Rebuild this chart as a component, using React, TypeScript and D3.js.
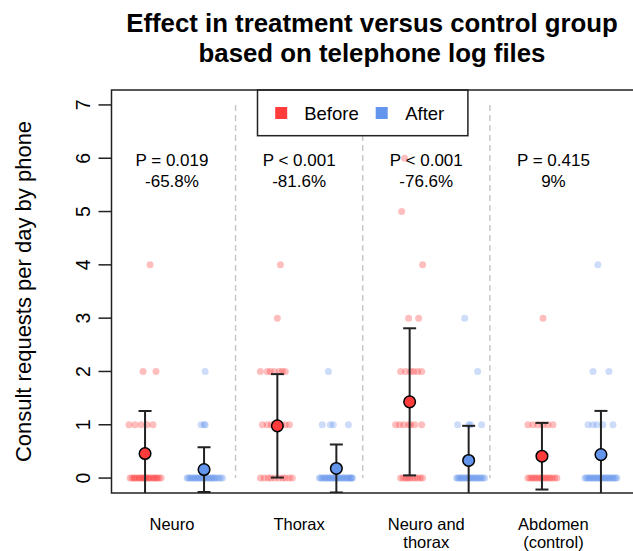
import React from 'react';
import * as d3 from 'd3';

// groups and summary text
const groups = ['Neuro', 'Thorax', 'Neuro and thorax', 'Abdomen (control)'];
const groupLabels = [['Neuro'], ['Thorax'], ['Neuro and', 'thorax'], ['Abdomen', '(control)']];
const pValues = ['P = 0.019', 'P < 0.001', 'P < 0.001', 'P = 0.415'];
const changes = ['-65.8%', '-81.6%', '-76.6%', '9%'];
const phases = ['Before', 'After'];
const yTicks = [0, 1, 2, 3, 4, 5, 6, 7];

// mean and sd per group
const meanBefore = [0.46, 0.98, 1.43, 0.41];
const sdBefore = [0.8, 0.97, 1.38, 0.625];
const meanAfter = [0.16, 0.18, 0.33, 0.44];
const sdAfter = [0.42, 0.45, 0.65, 0.82];

// observations: [value, jitter list] (jitter in group-width units)
type Row = [number, number[]];
const neuroBefore: Row[] = [
  [0, [-0.113, -0.098, -0.083, -0.076, -0.06, -0.045, -0.038, -0.023, -0.015, 0, 0.008, 0.023, 0.03, 0.045, 0.06, 0.068, 0.083, 0.091, 0.106, 0.121]],
  [1, [-0.121, -0.076, -0.03, 0.015, 0.06]],
  [2, [-0.015, 0.083]],
  [4, [0.038]],
];
const neuroAfter: Row[] = [
  [0, [-0.128, -0.12, -0.105, -0.098, -0.085, -0.078, -0.064, -0.058, -0.045, -0.038, -0.026, -0.018, -0.006, 0.002, 0.014, 0.022, 0.035, 0.042, 0.055, 0.062, 0.075, 0.082, 0.097, 0.11, 0.126, 0.14]],
  [1, [-0.023, 0, 0.008]],
  [2, [0.008]],
];
const thoraxBefore: Row[] = [
  [0, [-0.128, -0.1, -0.07, -0.05, -0.02, 0.01, 0.04, 0.06, 0.09, 0.113]],
  [1, [-0.113, -0.076, -0.045, 0, 0.03, 0.06, 0.091]],
  [2, [-0.128, -0.076, -0.053, -0.023, 0.015, 0.038, 0.06]],
  [3, [0]],
  [4, [0.023]],
];
const thoraxAfter: Row[] = [
  [0, [-0.128, -0.118, -0.108, -0.096, -0.087, -0.076, -0.066, -0.057, -0.046, -0.036, -0.027, -0.016, -0.006, 0.004, 0.013, 0.024, 0.033, 0.044, 0.053, 0.064, 0.073, 0.084, 0.093, 0.103, 0.11, 0.118, 0.121]],
  [1, [-0.106, -0.045, -0.023, 0.091]],
  [2, [-0.06]],
];
const ntBefore: Row[] = [
  [0, [-0.068, -0.05, -0.03, -0.015, 0, 0.02, 0.04, 0.06, 0.08, 0.098]],
  [1, [-0.106, -0.076, -0.045, -0.008, 0.008, 0.038, 0.091]],
  [2, [-0.068, -0.03, 0.008, 0.03, 0.06, 0.091]],
  [3, [-0.008, 0.068]],
  [4, [0.098]],
  [5, [-0.06]],
  [6, [-0.038]],
];
const ntAfter: Row[] = [
  [0, [-0.091, -0.083, -0.072, -0.062, -0.052, -0.042, -0.032, -0.02, -0.01, 0, 0.01, 0.02, 0.03, 0.042, 0.052, 0.062, 0.074, 0.085, 0.096, 0.108, 0.121]],
  [1, [-0.083, 0, 0.015, 0.098]],
  [2, [0.068]],
  [3, [-0.03]],
];
const abdBefore: Row[] = [
  [0, [-0.106, -0.09, -0.075, -0.06, -0.045, -0.03, -0.015, 0, 0.015, 0.03, 0.045, 0.06, 0.075, 0.095, 0.113]],
  [1, [-0.106, -0.068, -0.03, 0.008, 0.045, 0.083]],
  [3, [0.008]],
];
const abdAfter: Row[] = [
  [0, [-0.121, -0.111, -0.1, -0.09, -0.08, -0.07, -0.06, -0.05, -0.04, -0.03, -0.02, -0.01, 0, 0.01, 0.02, 0.03, 0.04, 0.05, 0.06, 0.07, 0.08, 0.09, 0.1, 0.111, 0.121]],
  [1, [-0.098, -0.06, -0.03, 0.015, 0.091]],
  [2, [-0.06, 0.06]],
  [4, [-0.023]],
];

const before = [neuroBefore, thoraxBefore, ntBefore, abdBefore];
const after = [neuroAfter, thoraxAfter, ntAfter, abdAfter];

const W = 633;
const H = 551;
const margin = { t: 90, b: 58, l: 111.5 };
const plotRight = 642;
const colors: Record<string, string> = { Before: '#FF3B3B', After: '#6495ED' };
const font = 'Liberation Sans, Arial, Helvetica, sans-serif';

export default function App() {
  const y = d3.scaleLinear().domain([-0.28, 7.28]).range([H - margin.b, margin.t]);
  // point positions and the label row use slightly different spreads (as in the original)
  const xGroup = d3.scaleBand().domain(groups).range([108.4, 637.6]);
  const xLabel = d3.scaleBand().domain(groups).range([108.4, 617]);
  const phaseOff = d3.scalePoint().domain(phases).range([-0.223, 0.223]);
  const bw = xGroup.bandwidth();

  const px = (g: string, ph: string, j: number) =>
    (xGroup(g) as number) + bw / 2 + ((phaseOff(ph) as number) + j) * bw;

  const points: { x: number; y: number; c: string; k: string }[] = [];
  groups.forEach((g, i) => {
    [before[i], after[i]].forEach((rows, pi) => {
      const ph = phases[pi];
      rows.forEach(([v, js]) => {
        js.forEach((j, n) => {
          points.push({ x: px(g, ph, j), y: y(v), c: colors[ph], k: `${i}-${ph}-${v}-${n}` });
        });
      });
    });
  });

  const summaries = groups.flatMap((g, i) => [
    { g, ph: 'Before', m: meanBefore[i], s: sdBefore[i] },
    { g, ph: 'After', m: meanAfter[i], s: sdAfter[i] },
  ]);

  const top = margin.t;
  const bottom = H - margin.b;
  const legendCx = (108.4 + 617) / 2;

  return (
    <svg width={W} height={H} style={{ position: 'absolute', left: 0, top: 0, background: '#fff' }} fontFamily={font}>
      <defs>
        <clipPath id="plotclip">
          <rect x={margin.l} y={top} width={plotRight - margin.l} height={bottom - top} />
        </clipPath>
      </defs>

      {/* title */}
      <text x={372} y={32} textAnchor="middle" fontSize={25.8} fontWeight="bold">Effect in treatment versus control group</text>
      <text x={372} y={62} textAnchor="middle" fontSize={25.8} fontWeight="bold">based on telephone log files</text>

      {/* separators */}
      {groups.slice(1).map(g => (
        <line key={g} x1={xLabel(g)} x2={xLabel(g)} y1={y(7)} y2={y(0)}
              stroke="#c8c8c8" strokeWidth={1.5} strokeDasharray="6,4" />
      ))}

      {/* p values and change */}
      {groups.map((g, i) => {
        const cx = (xLabel(g) as number) + xLabel.bandwidth() / 2;
        return (
          <g key={g} fontSize={17} textAnchor="middle">
            <text x={cx} y={165.5}>{pValues[i]}</text>
            <text x={cx} y={186.5}>{changes[i]}</text>
          </g>
        );
      })}

      <g clipPath="url(#plotclip)">
        {points.map(p => (
          <circle key={p.k} cx={p.x} cy={p.y} r={3.5} fill={p.c} fillOpacity={0.33} />
        ))}
        {summaries.map(d => {
          const cx = px(d.g, d.ph, 0);
          return (
            <g key={d.g + d.ph} stroke="#222" strokeWidth={2}>
              <line x1={cx} x2={cx} y1={y(d.m - d.s)} y2={y(d.m + d.s)} />
              <line x1={cx - 6.5} x2={cx + 6.5} y1={y(d.m + d.s)} y2={y(d.m + d.s)} />
              <line x1={cx - 6.5} x2={cx + 6.5} y1={y(d.m - d.s)} y2={y(d.m - d.s)} />
            </g>
          );
        })}
        {summaries.map(d => (
          <circle key={'m' + d.g + d.ph} cx={px(d.g, d.ph, 0)} cy={y(d.m)} r={5.8}
                  fill={colors[d.ph]} stroke="#000" strokeWidth={1.5} />
        ))}
      </g>

      {/* legend */}
      <g>
        <rect x={legendCx - 105.2} y={top} width={210.4} height={45.7} fill="#fff" stroke="#222" strokeWidth={1.5} />
        <rect x={legendCx - 87.5} y={107} width={12} height={12} fill={colors.Before} />
        <text x={legendCx - 58.5} y={120} fontSize={18.5}>Before</text>
        <rect x={legendCx + 13} y={107} width={12} height={12} fill={colors.After} />
        <text x={legendCx + 42.5} y={120} fontSize={18.5}>After</text>
      </g>

      {/* frame */}
      <rect x={margin.l} y={top} width={plotRight - margin.l} height={bottom - top} fill="none" stroke="#222" strokeWidth={1.5} />

      {/* y axis */}
      <g>
        {yTicks.map(t => (
          <g key={t} transform={`translate(${margin.l},${y(t)})`}>
            <line x1={-13} x2={0} y1={0} y2={0} stroke="#222" strokeWidth={1.5} />
            <text transform="translate(-22,0) rotate(-90)" textAnchor="middle" fontSize={19.5}>{t}</text>
          </g>
        ))}
        <text transform={`translate(31,${(top + bottom) / 2}) rotate(-90)`} textAnchor="middle" fontSize={22}>
          Consult requests per day by phone
        </text>
      </g>

      {/* category labels */}
      {groups.map((g, i) => {
        const cx = (xLabel(g) as number) + xLabel.bandwidth() / 2;
        return (
          <text key={g} textAnchor="middle" fontSize={16.5}>
            {groupLabels[i].map((l, li) => (
              <tspan key={l} x={cx} y={530 + li * 18}>{l}</tspan>
            ))}
          </text>
        );
      })}
    </svg>
  );
}
